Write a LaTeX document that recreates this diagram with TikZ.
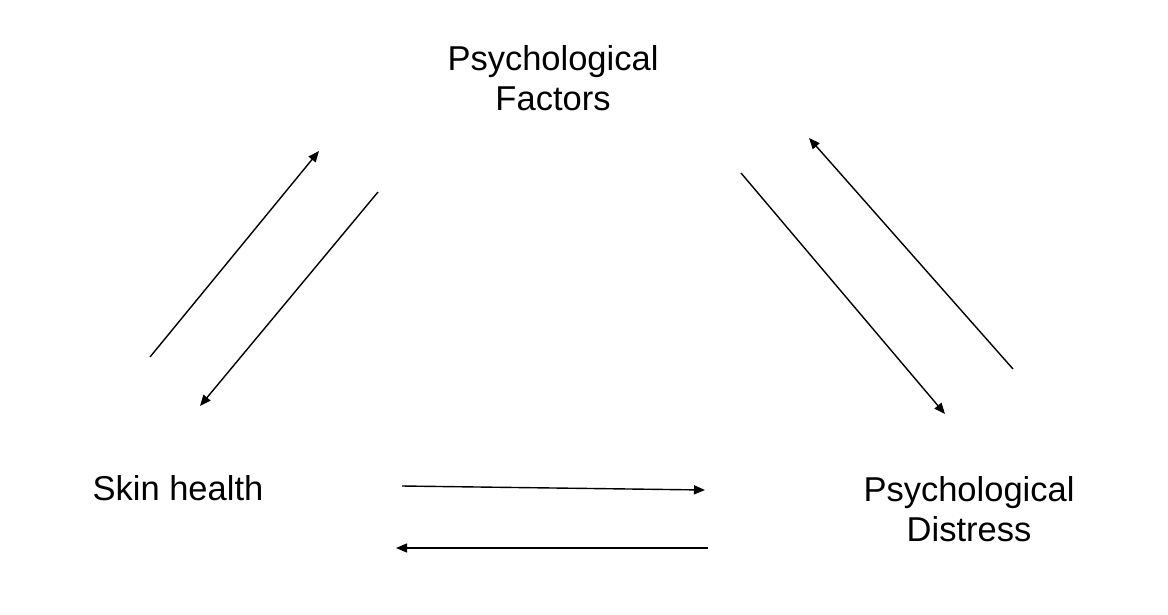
\documentclass[tikz,border=0pt]{standalone}
\usepackage{fontspec}
\setmainfont{Liberation Sans}
\usetikzlibrary{arrows.meta}
\begin{document}
\begin{tikzpicture}[x=1pt,y=-1pt,
  lbl/.style={inner sep=0pt,outer sep=0pt,align=center,font=\fontsize{34.5}{39.5}\selectfont,anchor=base},
  link/.style={line width=1.4pt,-{Triangle[length=11pt,width=9pt]}}]
\useasboundingbox[fill=white] (0,0) rectangle (1168,614);
\node[lbl] (pf) at (553,110) {Psychological\\Factors};
\node[lbl] (sh) at (178,500) {Skin health};
\node[lbl] (pd) at (969,541) {Psychological\\Distress};
\coordinate (a1s) at (150,357); \coordinate (a1e) at (319,151);
\coordinate (a2s) at (378,192); \coordinate (a2e) at (200,406);
\coordinate (a3s) at (741,173); \coordinate (a3e) at (945,414);
\coordinate (a4s) at (1013,369); \coordinate (a4e) at (809,138);
\coordinate (a5s) at (402,486); \coordinate (a5e) at (705,490);
\coordinate (a6s) at (708,548); \coordinate (a6e) at (396,548);
\draw[link] (a1s) -- (a1e);
\draw[link] (a2s) -- (a2e);
\draw[link] (a3s) -- (a3e);
\draw[link] (a4s) -- (a4e);
\draw[link] (a5s) -- (a5e);
\draw[link] (a6s) -- (a6e);
\end{tikzpicture}
\end{document}
